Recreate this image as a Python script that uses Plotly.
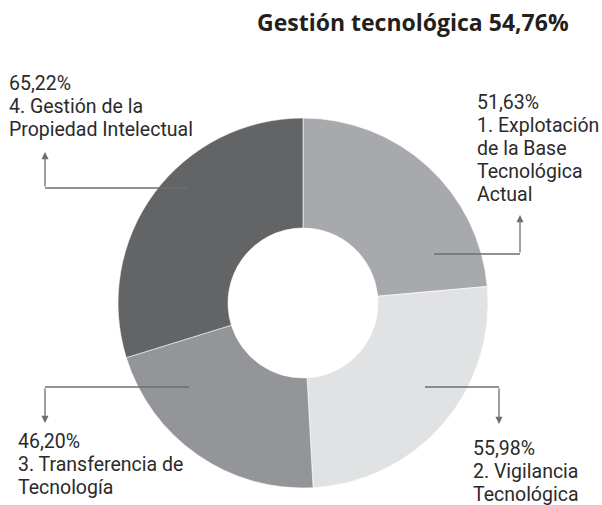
import plotly.graph_objects as go

# ---- data ----
categories = ["1. Explotación de la Base Tecnológica Actual",
              "2. Vigilancia Tecnológica",
              "3. Transferencia de Tecnología",
              "4. Gestión de la Propiedad Intelectual"]
values = [51.63, 55.98, 46.20, 65.22]
label_lines = [["1. Explotación", "de la Base", "Tecnológica", "Actual"],
               ["2. Vigilancia", "Tecnológica"],
               ["3. Transferencia de", "Tecnología"],
               ["4. Gestión de la", "Propiedad Intelectual"]]
title_text = "Gestión tecnológica 54,76%"

colors = ["#a7a9ac", "#e1e2e3", "#939598", "#636466"]

W, H = 602, 505
cx, cy, R, r = 303, 303, 185, 75

fig = go.Figure()
fig.add_trace(go.Pie(
    labels=categories, values=values, sort=False, direction="clockwise",
    rotation=0, hole=r / R, textinfo="none", hoverinfo="label+value",
    marker=dict(colors=colors, line=dict(color="#ffffff", width=0.6)),
    domain=dict(x=[(cx - R) / W, (cx + R) / W], y=[(H - cy - R) / H, (H - cy + R) / H]),
    showlegend=False))

# invisible pixel-space axes for decorations
fig.add_trace(go.Scatter(x=[0, W], y=[0, H], mode="markers", marker=dict(opacity=0),
                         hoverinfo="skip", showlegend=False))

LINE = "#6d6e71"
TXT = "#2b2a2b"
FONT = "Roboto, sans-serif"
FS = 19.5
PITCH = 23
# per slice: (leader start x, horizontal y, vertical x, arrow tip y, text left x, first baseline)
leaders = [
    (434, 254, 520, 215, 475, 108),
    (425, 387, 499, 424, 471, 454),
    (189, 387, 45, 423, 16, 447),
    (188, 188, 45, 152, 7, 89),
]
BASE_OFF = -6  # baseline -> middle offset

annotations = []
shapes = []
for i, (x0, yh, xv, tip, tx, b0) in enumerate(leaders):
    shapes.append(dict(type="line", xref="x", yref="y", x0=x0, y0=yh, x1=xv, y1=yh,
                       line=dict(color=LINE, width=1.3)))
    annotations.append(dict(x=xv, y=tip, ax=xv, ay=yh, xref="x", yref="y", axref="x", ayref="y",
                            text="", showarrow=True, arrowhead=2, arrowsize=1.1,
                            arrowwidth=1.3, arrowcolor=LINE, standoff=0))
    pct = f"{values[i]:.2f}".replace(".", ",") + "%"
    lines = [pct] + label_lines[i]
    for k, ln in enumerate(lines):
        annotations.append(dict(x=tx, y=b0 + k * PITCH + BASE_OFF, xref="x", yref="y",
                                text=ln, showarrow=False, xanchor="left", yanchor="middle",
                                font=dict(family=FONT, size=FS, color=TXT)))

annotations.append(dict(x=571, y=22, xref="x", yref="y", text="<b>" + title_text + "</b>",
                        showarrow=False, xanchor="right", yanchor="middle",
                        font=dict(family="Open Sans, sans-serif", size=23, color="#231f20")))

fig.update_layout(
    width=W, height=H, margin=dict(l=0, r=0, t=0, b=0),
    paper_bgcolor="white", plot_bgcolor="rgba(0,0,0,0)",
    xaxis=dict(range=[0, W], visible=False, fixedrange=True),
    yaxis=dict(range=[H, 0], visible=False, fixedrange=True),
    shapes=shapes, annotations=annotations,
)

fig.write_html("out.html", config={"displayModeBar": False},
               post_script="document.body.style.margin='0';document.body.style.padding='0';")
